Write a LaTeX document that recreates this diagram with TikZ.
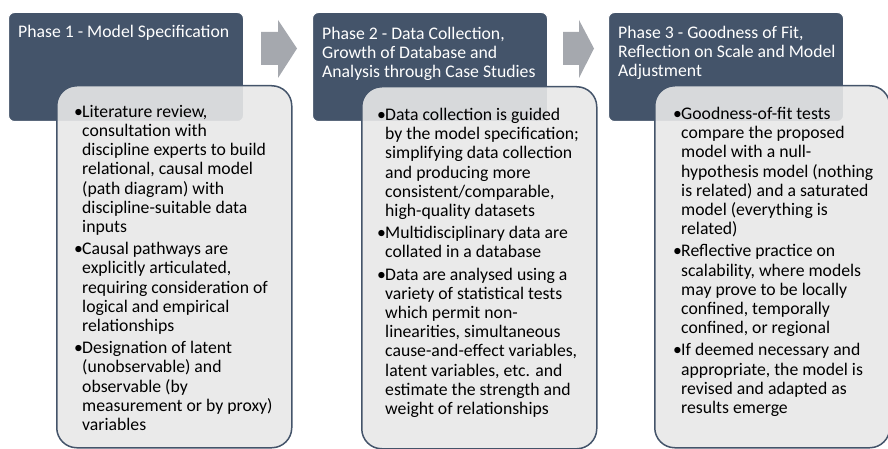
\documentclass[tikz,border=0pt]{standalone}
\usepackage{fontspec}
\setmainfont{Carlito}
\usepackage{xcolor}
\usetikzlibrary{positioning}
\definecolor{slate}{HTML}{44546A}
\definecolor{panel}{HTML}{E8E8E8}
\definecolor{chevron}{HTML}{A5A8AE}
\newcommand{\bitem}{\makebox[8pt][l]{\textbullet}}
\newcommand{\bcont}{\hspace*{8pt}}
\newcommand{\phasefont}{\fontsize{17.7}{19.2}\selectfont}

\begin{document}
\begin{tikzpicture}[x=1pt, y=-1pt,
    phase/.style={fill=slate, draw=white, line width=1pt, rounded corners=6pt,
        anchor=north west, minimum width=235pt, minimum height=109pt, inner sep=0pt},
    panelbox/.style={fill=panel, fill opacity=0.9, draw=slate, line width=1.5pt,
        rounded corners=20pt, anchor=north west, minimum width=235pt,
        minimum height=362pt, inner sep=0pt},
    phasetext/.style={text=white, align=left, anchor=north west, inner sep=0pt, font=\phasefont},
    itemtext/.style={text=black, align=left, anchor=north west, inner sep=0pt, font=\phasefont}]
\useasboundingbox (0,0) rectangle (888,449);
% phase headers
\node[phase] (hdr1) at (8,12) {};
\node[phase] (hdr2) at (312,12) {};
\node[phase] (hdr3) at (608,12) {};
\node[phasetext] (ttl1) at (18,25) {Phase 1 - Model Specification};
\node[phasetext] (ttl2) at (322,27) {Phase 2 - Data Collection,\\Growth of Database and\\Analysis through Case Studies};
\node[phasetext] (ttl3) at (618,26) {Phase 3 - Goodness of Fit,\\Reflection on Scale and Model\\Adjustment};
% arrows between phases
\fill[chevron] (261,32) -- (278,32) -- (278,20) -- (297,48.5) -- (278,78) -- (278,65) -- (261,65) -- cycle;
\fill[chevron] (563,32) -- (579,32) -- (579,20) -- (594,48.5) -- (579,78) -- (579,65) -- (563,65) -- cycle;
% detail panels
\node[panelbox] (body1) at (56,85) {};
\node[panelbox] (body2) at (361,86) {};
\node[panelbox] (body3) at (654,85) {};
\node[itemtext] (txt1) at (74,105) {%
\bitem Literature review,\\ \bcont consultation with\\ \bcont discipline experts to build\\
\bcont relational, causal model\\ \bcont (path diagram) with\\ \bcont discipline-suitable data\\
\bcont inputs\\[3pt]
\bitem Causal pathways are\\ \bcont explicitly articulated,\\ \bcont requiring consideration of\\
\bcont logical and empirical\\ \bcont relationships\\[3pt]
\bitem Designation of latent\\ \bcont (unobservable) and\\ \bcont observable (by\\
\bcont measurement or by proxy)\\ \bcont variables};
\node[itemtext] (txt2) at (377,108) {%
\bitem Data collection is guided\\ \bcont by the model specification;\\ \bcont simplifying data collection\\
\bcont and producing more\\ \bcont consistent/comparable,\\ \bcont high-quality datasets\\[3pt]
\bitem Multidisciplinary data are\\ \bcont collated in a database\\[3pt]
\bitem Data are analysed using a\\ \bcont variety of statistical tests\\ \bcont which permit non-\\
\bcont linearities, simultaneous\\ \bcont cause-and-effect variables,\\ \bcont latent variables, etc. and\\
\bcont estimate the strength and\\ \bcont weight of relationships};
\node[itemtext] (txt3) at (673,107) {%
\bitem Goodness-of-fit tests\\ \bcont compare the proposed\\ \bcont model with a null-\\
\bcont hypothesis model (nothing\\ \bcont is related) and a saturated\\ \bcont model (everything is\\
\bcont related)\\[3pt]
\bitem Reflective practice on\\ \bcont scalability, where models\\ \bcont may prove to be locally\\
\bcont confined, temporally\\ \bcont confined, or regional\\[3pt]
\bitem If deemed necessary and\\ \bcont appropriate, the model is\\ \bcont revised and adapted as\\
\bcont results emerge};
\end{tikzpicture}
\end{document}
